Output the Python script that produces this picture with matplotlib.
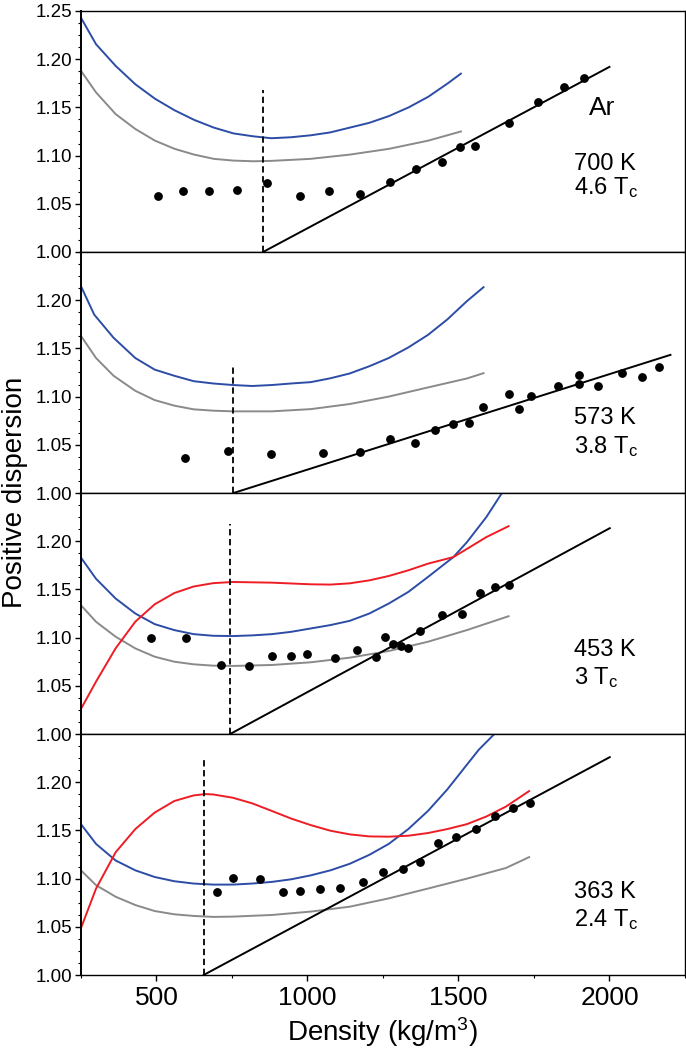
import numpy as np
import matplotlib
matplotlib.use("Agg")
import matplotlib.pyplot as plt
from matplotlib.ticker import MultipleLocator

plt.rcParams["font.family"] = ["Liberation Sans", "DejaVu Sans"]
plt.rcParams["mathtext.fontset"] = "custom"
plt.rcParams["mathtext.rm"] = "Liberation Sans"
plt.rcParams["mathtext.it"] = "Liberation Sans:italic"

# ---- 700 K (4.6 Tc) ----
blue700_x = [250, 300, 365, 430, 495, 560, 625, 690, 755, 820, 880, 945, 1010, 1075, 1140, 1205, 1270, 1335, 1400, 1465, 1508]
blue700_y = [1.243, 1.2155, 1.193, 1.174, 1.159, 1.147, 1.137, 1.129, 1.123, 1.120, 1.118, 1.119, 1.121, 1.124, 1.129, 1.134, 1.141, 1.150, 1.161, 1.175, 1.185]
grey700_x = [250, 300, 365, 430, 495, 560, 625, 690, 755, 820, 880, 1010, 1140, 1270, 1400, 1508]
grey700_y = [1.188, 1.1655, 1.143, 1.1276, 1.1155, 1.107, 1.101, 1.0966, 1.0948, 1.0941, 1.0945, 1.0966, 1.101, 1.107, 1.1155, 1.125]
dots700_x = [505, 589, 673, 768, 866, 975, 1072, 1175, 1273, 1360, 1445, 1506, 1555, 1666, 1765, 1848, 1915]
dots700_y = [1.058, 1.063, 1.063, 1.064, 1.072, 1.058, 1.063, 1.060, 1.073, 1.086, 1.093, 1.109, 1.110, 1.134, 1.156, 1.171, 1.180]
fit700_x = [853, 2000]
fit700_y = [1.00, 1.192]
dash700 = [853, 1.168]

# ---- 573 K (3.8 Tc) ----
blue573_x = [250, 294, 358, 430, 494, 559, 623, 688, 753, 817, 882, 946, 1011, 1076, 1140, 1205, 1269, 1334, 1399, 1463, 1528, 1583]
blue573_y = [1.2145, 1.185, 1.161, 1.140, 1.128, 1.1216, 1.116, 1.1136, 1.112, 1.111, 1.112, 1.1136, 1.115, 1.119, 1.124, 1.1315, 1.140, 1.151, 1.164, 1.180, 1.199, 1.2135]
grey573_x = [250, 300, 358, 430, 494, 559, 623, 688, 753, 882, 1011, 1140, 1269, 1399, 1528, 1583]
grey573_y = [1.163, 1.140, 1.1216, 1.106, 1.0964, 1.0906, 1.0868, 1.0854, 1.0847, 1.0847, 1.087, 1.0923, 1.100, 1.1095, 1.1188, 1.1243]
dots573_x = [595, 738, 878, 1052, 1175, 1273, 1355, 1422, 1481, 1535, 1582, 1667, 1701, 1741, 1830, 1900, 1900, 1961, 2041, 2108, 2165]
dots573_y = [1.0368, 1.0437, 1.0403, 1.0417, 1.0424, 1.0561, 1.052, 1.0658, 1.0713, 1.0727, 1.0895, 1.1026, 1.0868, 1.1002, 1.1105, 1.1222, 1.1133, 1.1105, 1.1243, 1.1202, 1.1302]
fit573_x = [755, 2202]
fit573_y = [1.00, 1.1433]
dash573 = [755, 1.131]

# ---- 453 K (3 Tc) ----
blue453_x = [250, 300, 365, 430, 494, 559, 623, 688, 753, 817, 882, 946, 1011, 1076, 1140, 1205, 1269, 1334, 1399, 1483, 1528, 1592, 1644]
blue453_y = [1.183, 1.161, 1.1405, 1.125, 1.114, 1.1078, 1.1036, 1.1019, 1.1016, 1.1023, 1.1036, 1.106, 1.1095, 1.113, 1.1174, 1.125, 1.1353, 1.1474, 1.1629, 1.1835, 1.199, 1.2249, 1.25]
red453_x = [250, 300, 365, 430, 494, 559, 623, 688, 753, 882, 1011, 1076, 1140, 1205, 1269, 1334, 1399, 1483, 1528, 1592, 1666]
red453_y = [1.026, 1.0544, 1.089, 1.1165, 1.1345, 1.1462, 1.1530, 1.1565, 1.1577, 1.157, 1.1553, 1.155, 1.1563, 1.1594, 1.1639, 1.1698, 1.1767, 1.1835, 1.192, 1.2042, 1.2156]
grey453_x = [250, 300, 365, 430, 494, 559, 623, 688, 753, 882, 1011, 1140, 1269, 1399, 1528, 1666]
grey453_y = [1.1336, 1.1164, 1.1009, 1.0888, 1.0802, 1.075, 1.0723, 1.0709, 1.0706, 1.0716, 1.0744, 1.0792, 1.0861, 1.0957, 1.1078, 1.1222]
dots453_x = [481, 599, 714, 806, 884, 945, 1000, 1091, 1165, 1228, 1257, 1284, 1309, 1332, 1374, 1447, 1512, 1572, 1620, 1666]
dots453_y = [1.0999, 1.0999, 1.0713, 1.0702, 1.0806, 1.0813, 1.083, 1.0792, 1.0875, 1.0802, 1.1006, 1.0937, 1.0916, 1.0888, 1.1067, 1.1236, 1.1243, 1.1467, 1.1522, 1.1543]
fit453_x = [744, 2001]
fit453_y = [1.00, 1.2135]
dash453 = [744, 1.218]

# ---- 363 K (2.4 Tc) ----
blue363_x = [250, 300, 365, 430, 494, 559, 623, 688, 753, 817, 882, 946, 1011, 1076, 1140, 1205, 1269, 1334, 1399, 1463, 1528, 1567, 1619]
blue363_y = [1.1565, 1.136, 1.1188, 1.1086, 1.1017, 1.0973, 1.0949, 1.0938, 1.0938, 1.0949, 1.0966, 1.0993, 1.1034, 1.1086, 1.1154, 1.1247, 1.136, 1.1514, 1.1702, 1.1925, 1.2182, 1.2336, 1.25]
red363_x = [250, 300, 365, 430, 494, 559, 623, 662, 688, 753, 817, 882, 946, 1011, 1076, 1140, 1205, 1269, 1334, 1399, 1463, 1528, 1592, 1657, 1734]
red363_y = [1.0486, 1.0897, 1.1274, 1.1514, 1.1685, 1.1805, 1.1863, 1.1877, 1.1873, 1.1839, 1.1781, 1.1702, 1.1623, 1.1555, 1.1497, 1.1459, 1.1438, 1.1435, 1.1445, 1.1473, 1.1514, 1.1565, 1.1644, 1.1747, 1.1908]
grey363_x = [250, 300, 365, 430, 494, 559, 623, 688, 753, 882, 1011, 1140, 1269, 1399, 1528, 1657, 1734]
grey363_y = [1.1086, 1.0932, 1.0812, 1.0726, 1.0664, 1.063, 1.0613, 1.0603, 1.0606, 1.0623, 1.0658, 1.0709, 1.0795, 1.0897, 1.1, 1.111, 1.1223]
dots363_x = [700, 755, 844, 918, 976, 1041, 1107, 1184, 1250, 1315, 1372, 1431, 1491, 1558, 1620, 1679, 1736]
dots363_y = [1.0866, 1.101, 1.100, 1.086, 1.0873, 1.0897, 1.0901, 1.0962, 1.1072, 1.1096, 1.1171, 1.1366, 1.1435, 1.1517, 1.1647, 1.1729, 1.1781]
fit363_x = [656, 2001]
fit363_y = [1.00, 1.226]
dash363 = [656, 1.224]

temps = ["700 K", "573 K", "453 K", "363 K"]
tred = ["4.6", "3.8", "3", "2.4"]
label_y = [(1.0854, 1.0602), (1.072, 1.0417), (1.0812, 1.052), (1.080, 1.051)]

BLUE = "#2c4ca6"
GREY = "#8a8a8a"
RED = "#ee1d25"

panels = [
    (blue700_x, blue700_y, grey700_x, grey700_y, None, None, dots700_x, dots700_y, fit700_x, fit700_y, dash700),
    (blue573_x, blue573_y, grey573_x, grey573_y, None, None, dots573_x, dots573_y, fit573_x, fit573_y, dash573),
    (blue453_x, blue453_y, grey453_x, grey453_y, red453_x, red453_y, dots453_x, dots453_y, fit453_x, fit453_y, dash453),
    (blue363_x, blue363_y, grey363_x, grey363_y, red363_x, red363_y, dots363_x, dots363_y, fit363_x, fit363_y, dash363),
]

fig, axes = plt.subplots(4, 1, sharex=True, figsize=(6.86, 10.55), dpi=100)
fig.subplots_adjust(left=0.118, right=0.9985, top=0.9896, bottom=0.0758, hspace=0)

for i, (ax, p) in enumerate(zip(axes, panels)):
    bx, by, gx, gy, rx, ry, dx, dy, fx, fy, dash = p
    ax.plot(bx, by, color=BLUE, lw=1.4)
    ax.plot(gx, gy, color=GREY, lw=1.4)
    if rx is not None:
        ax.plot(rx, ry, color=RED, lw=1.4)
    ax.plot(fx, fy, color="black", lw=1.4)
    ax.plot([dash[0], dash[0]], [1.0, dash[1]], color="black", lw=1.3, ls=(0, (3.5, 2)))
    ax.plot(dx, dy, "o", color="black", ms=5.3, mec="black")

    ax.set_xlim(250, 2250)
    ax.set_ylim(1.0, 1.25)
    if i == 0:
        ax.set_yticks([1.00, 1.05, 1.10, 1.15, 1.20, 1.25])
    else:
        ax.set_yticks([1.00, 1.05, 1.10, 1.15, 1.20])
    ax.yaxis.set_minor_locator(MultipleLocator(0.0125))
    ax.xaxis.set_major_locator(MultipleLocator(500))
    ax.xaxis.set_minor_locator(MultipleLocator(250))
    ax.tick_params(axis="both", which="both", direction="out", top=False, right=False)
    ax.tick_params(axis="y", which="major", length=4, width=1, labelsize=13.5, pad=2.5)
    ax.tick_params(axis="y", which="minor", length=2.3, width=0.8)
    ax.tick_params(axis="x", which="major", length=4, width=1, labelsize=19, pad=4)
    ax.tick_params(axis="x", which="minor", length=2.3, width=0.8)
    for s in ax.spines.values():
        s.set_linewidth(1.0)
    ax.spines["left"].set_linewidth(1.4)

    ax.text(1882, label_y[i][0], temps[i], fontsize=17, ha="left", va="baseline")
    ax.text(1882, label_y[i][1], tred[i] + r" T$_{\mathrm{c}}$", fontsize=17, ha="left", va="baseline")

axes[0].text(1932, 1.1424, "Ar", fontsize=19, ha="left", va="baseline")

axes[-1].set_xlabel("Density (kg/m$^3$)", fontsize=20, labelpad=4)
fig.text(0.022, 0.533, "Positive dispersion", rotation=90, fontsize=20, ha="center", va="center")

fig.savefig("out.png", dpi=100)
